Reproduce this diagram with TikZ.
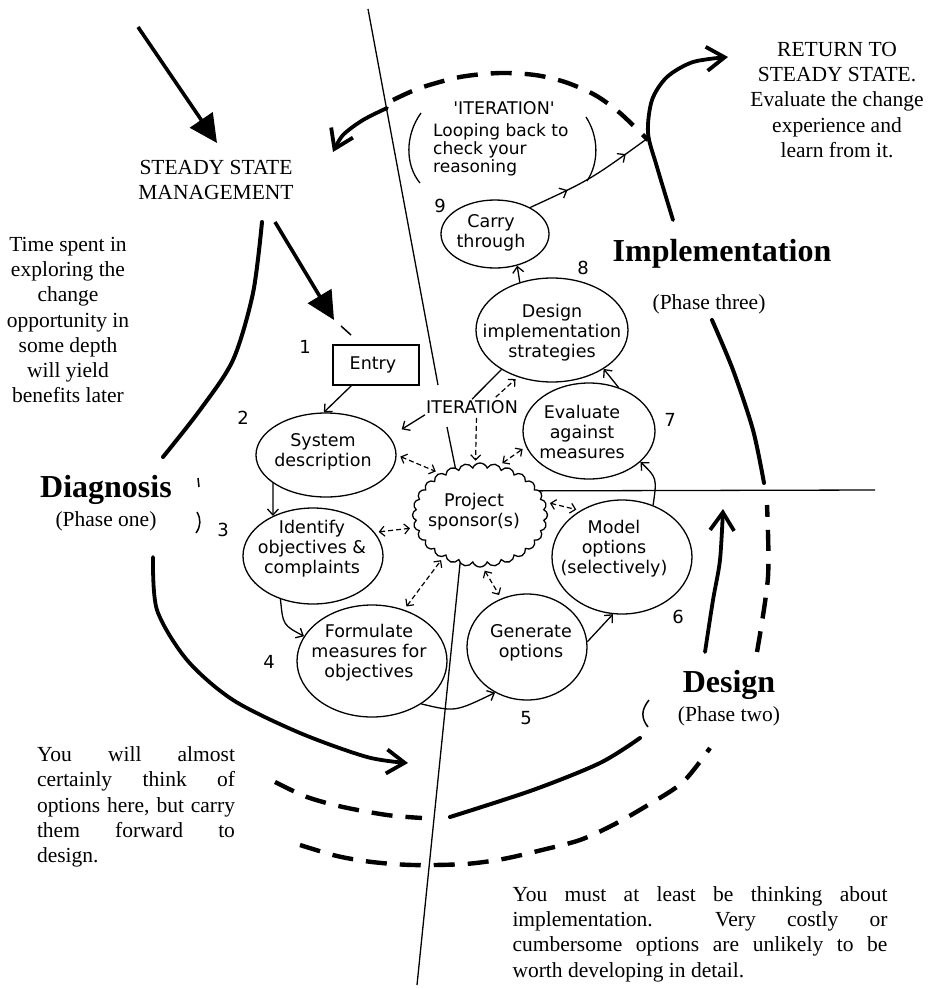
\documentclass[tikz,border=0pt]{standalone}
\usepackage{fontspec}
\setmainfont{Liberation Serif}
\newfontfamily\hwfont{DejaVu Sans}
\usetikzlibrary{shapes.geometric,shapes.symbols,arrows.meta,decorations.markings}
\tikzset{
 tmtext/.style={font=\fontsize{21.5}{25.3}\selectfont, align=center, inner sep=0pt},
 hdtext/.style={font=\fontsize{32}{36}\selectfont\bfseries, inner sep=0pt},
 hwtext/.style={font=\hwfont\fontsize{17.5}{20}\selectfont, align=center, inner sep=0pt},
 numtext/.style={font=\hwfont\fontsize{18}{20}\selectfont, inner sep=0pt},
 oval/.style={draw, ellipse, line width=1.3pt, inner sep=0pt},
 entrybox/.style={draw, rectangle, line width=1.3pt, inner sep=0pt},
 sponsorcloud/.style={draw, cloud, cloud puffs=28, cloud puff arc=140, line width=1.3pt, fill=white, inner sep=0pt},
 hwline/.style={line width=1.3pt},
 hwarrow/.style={line width=1.3pt, -{Straight Barb[length=6pt,width=11pt]}},
 dasharrow/.style={line width=1.2pt, dash pattern=on 5pt off 3pt, shorten <=4pt, shorten >=4pt, {Straight Barb[length=5pt,width=10pt]}-{Straight Barb[length=5pt,width=10pt]}},
 dashsingle/.style={line width=1.2pt, dash pattern=on 5pt off 3pt, shorten <=3pt, shorten >=3pt, -{Straight Barb[length=5pt,width=10pt]}},
 thinrule/.style={line width=1.3pt},
 ring/.style={line width=4pt, line cap=round},
 ringdash/.style={line width=4.4pt, dash pattern=on 21pt off 13pt},
 bigarrow/.style={line width=3.6pt, -{Triangle[length=28pt,width=27pt]}},
 ringarrow/.style={line width=3.8pt, line cap=round, -{Straight Barb[length=18pt,width=24pt]}},
 mark stroke/.style={line width=1.5pt}
}
\begin{document}
\begin{tikzpicture}[x=1pt,y=-1pt]
\path[fill=white] (0,0) rectangle (941,989);
\useasboundingbox (0,0) rectangle (941,989);

% thin dividing lines
\coordinate (vtop) at (368,9);
\coordinate (vgapA) at (438,385);
\coordinate (vgapB) at (447,427);
\coordinate (vbend) at (465,515);
\coordinate (vbot) at (417,985);
\coordinate (hstart) at (480,491);
\coordinate (hend) at (875,490);
\draw[thinrule] (vtop) -- (vgapA);
\draw[thinrule] (vgapB) -- (vbend) -- (vbot);
\draw[thinrule] (hstart) -- (hend);

% printed texts
\node[tmtext] (ssm) at (216,180) {STEADY STATE\\MANAGEMENT};
\node[tmtext] (timespent) at (68,320) {Time spent in\\exploring the\\change\\opportunity in\\some depth\\will yield\\benefits later};
\node[hdtext] (diag) at (106,490) {Diagnosis};
\node[tmtext] (ph1) at (106,521) {(Phase one)};
\node[tmtext] (retss) at (837,100) {RETURN TO\\STEADY STATE.\\Evaluate the change\\experience and\\learn from it.};
\node[hdtext] (impl) at (722,254) {Implementation};
\node[tmtext] (ph3) at (709,304) {(Phase three)};
\node[hdtext] (dsg) at (729,685) {Design};
\node[tmtext] (ph2) at (729,716) {(Phase two)};
\node[tmtext, align=left] (almost) at (136,807) {\makebox[198pt][s]{You will almost}\\\makebox[198pt][s]{certainly think of}\\\makebox[198pt][s]{options here, but carry}\\\makebox[198pt][s]{them forward to}\\design.};
\node[tmtext, align=left] (mustthink) at (700,934) {\makebox[375pt][s]{You must at least be thinking about}\\\makebox[375pt][s]{implementation.\ \ Very costly or}\\\makebox[375pt][s]{cumbersome options are unlikely to be}\\worth developing in detail.};

% handwritten nodes
\node[entrybox, minimum width=86pt, minimum height=40pt] (entry) at (376,365) {};
\node[hwtext] (entrytxt) at (373,365) {Entry};
\node[oval, minimum width=140pt, minimum height=84pt] (sys) at (326,455) {};
\node[hwtext] (systxt) at (323,452) {System\\description};
\node[oval, minimum width=140pt, minimum height=96pt] (ident) at (313,556) {};
\node[hwtext] (identtxt) at (312,549) {Identify\\objectives \&\\complaints};
\node[oval, minimum width=150pt, minimum height=112pt] (form) at (372,661) {};
\node[hwtext] (formtxt) at (369,653) {Formulate\\measures for\\objectives};
\node[oval, minimum width=120pt, minimum height=106pt] (gen) at (527,647) {};
\node[hwtext] (gentxt) at (531,643) {Generate\\options};
\node[oval, minimum width=140pt, minimum height=114pt] (model) at (622,557) {};
\node[hwtext] (modeltxt) at (614,549) {Model\\options\\(selectively)};
\node[oval, minimum width=132pt, minimum height=96pt] (eval) at (589,431) {};
\node[hwtext] (evaltxt) at (582,432) {Evaluate\\against\\measures};
\node[oval, minimum width=152pt, minimum height=104pt] (dimpl) at (552,330) {};
\node[hwtext] (dimpltxt) at (552,333) {Design\\implementation\\strategies};
\node[oval, minimum width=108pt, minimum height=68pt] (carry) at (495,234) {};
\node[hwtext] (carrytxt) at (491,233) {Carry\\through};
\node[sponsorcloud, minimum width=135pt, minimum height=104pt] (sponsor) at (480,515) {};
\node[hwtext] (sponsortxt) at (474,512) {Project\\sponsor(s)};
\node[hwtext, fill=white, inner sep=1pt] (iterc) at (472,407) {ITERATION};
\node[hwtext] (loophead) at (504,108) {'ITERATION'};
\node[hwtext, align=left, anchor=west, font=\hwfont\fontsize{17}{18}\selectfont] (loopbody) at (433,150) {Looping back to\\check your\\reasoning};
\draw[hwline] (421,113) .. controls (405,135) and (405,165) .. (420,183);
\draw[hwline] (586,117) .. controls (599,137) and (599,163) .. (587,181);

% step numbers
\node[numtext] (n1) at (305,347) {1};
\node[numtext] (n2) at (243,418) {2};
\node[numtext] (n3) at (223,530) {3};
\node[numtext] (n4) at (269,662) {4};
\node[numtext] (n5) at (526,718) {5};
\node[numtext] (n6) at (678,617) {6};
\node[numtext] (n7) at (670,420) {7};
\node[numtext] (n8) at (583,268) {8};
\node[numtext] (n9) at (440,206) {9};

% handwritten connectors
\coordinate (cross) at (648,138);
\draw[hwarrow] (entry.-140) -- (sys.93);
\draw[hwarrow] (sys.208) -- (ident.135);
\draw[hwarrow] (ident.233) .. controls (283,625) .. (form.160);
\draw[hwarrow] (form.-41) .. controls (455,712) .. (gen.235);
\draw[hwarrow] (gen.5) -- (model.-99);
\draw[hwarrow] (model.59) .. controls (657,478) .. (eval.-31);
\draw[hwarrow] (eval.56) -- (dimpl.-37);
\draw[hwarrow] (dimpl.124) -- (carry.-55);
\draw[hwline, postaction={decorate}, decoration={markings,
   mark=at position 0.3 with {\arrow{Straight Barb[length=6pt,width=11pt]}},
   mark=at position 0.8 with {\arrow{Straight Barb[length=6pt,width=11pt]}}}]
   (carry.37) .. controls (590,180) .. (cross);
\draw[hwline] (dimpl.218) -- (iterc.north);
\draw[hwarrow, shorten >=14pt] (iterc.south west) -- (sys.16);
\draw[dasharrow] (sys.0) -- (sponsor.134);
\draw[dasharrow] (ident.21) -- (sponsor.191);
\draw[dasharrow] (form.58) -- (sponsor.229);
\draw[dasharrow] (sponsor.-87) -- (gen.118);
\draw[dasharrow] (sponsor.11) -- (model.132);
\draw[dasharrow] (sponsor.69) -- (eval.194);
\draw[dashsingle] (iterc.-60) -- (sponsor.95);
\draw[dashsingle] (iterc.20) -- (dimpl.234);

% thick phase rings
\draw[ring] plot[smooth] coordinates {(262,222) (253,293) (233,360) (200,410) (163,457)};
\draw[ringarrow] plot[smooth] coordinates {(153,557) (157,610) (187,660) (233,700) (300,733) (367,757) (408,763)};
\draw[ringdash] plot[smooth] coordinates {(275,782) (307,797) (343,807) (387,815) (422,818)};
\draw[ring] plot[smooth] coordinates {(450,817) (533,790) (600,763) (640,738)};
\draw[mark stroke] (649,700) .. controls (641,710) and (641,718) .. (648,727);
\draw[ringarrow] plot[smooth] coordinates {(705,652) (713,600) (720,560) (723,509)};
\draw[ringdash] plot[smooth] coordinates {(300,845) (337,856) (372,862) (413,865) (465,864) (503,859) (542,850) (580,840) (613,825) (648,805) (683,782) (710,748)};
\draw[ringdash] plot[smooth] coordinates {(757,652) (768,577) (767,505)};
\draw[ring] plot[smooth] coordinates {(764,483) (753,430) (733,370) (712,320)};
\draw[ringarrow] plot[smooth] coordinates {(673,220) (657,167) (648,133) (652,100) (667,77) (693,62) (728,57)};
\draw[ringdash] plot[smooth] coordinates {(393,100) (420,88) (460,77) (500,73) (535,75) (565,82) (595,95) (620,113) (648,140)};
\draw[ringarrow] plot[smooth] coordinates {(387,108) (363,120) (343,135) (333,152)};

% big straight arrows
\draw[bigarrow] (138,27) -- (217,143);
\draw[bigarrow] (275,222) -- (334,320);

% small strokes
\draw[mark stroke] (341,326) -- (351,335);
\draw[mark stroke] (197,512) .. controls (201,519) and (201,526) .. (196,533);
\draw[mark stroke] (198,478) -- (199,487);
\end{tikzpicture}
\end{document}
